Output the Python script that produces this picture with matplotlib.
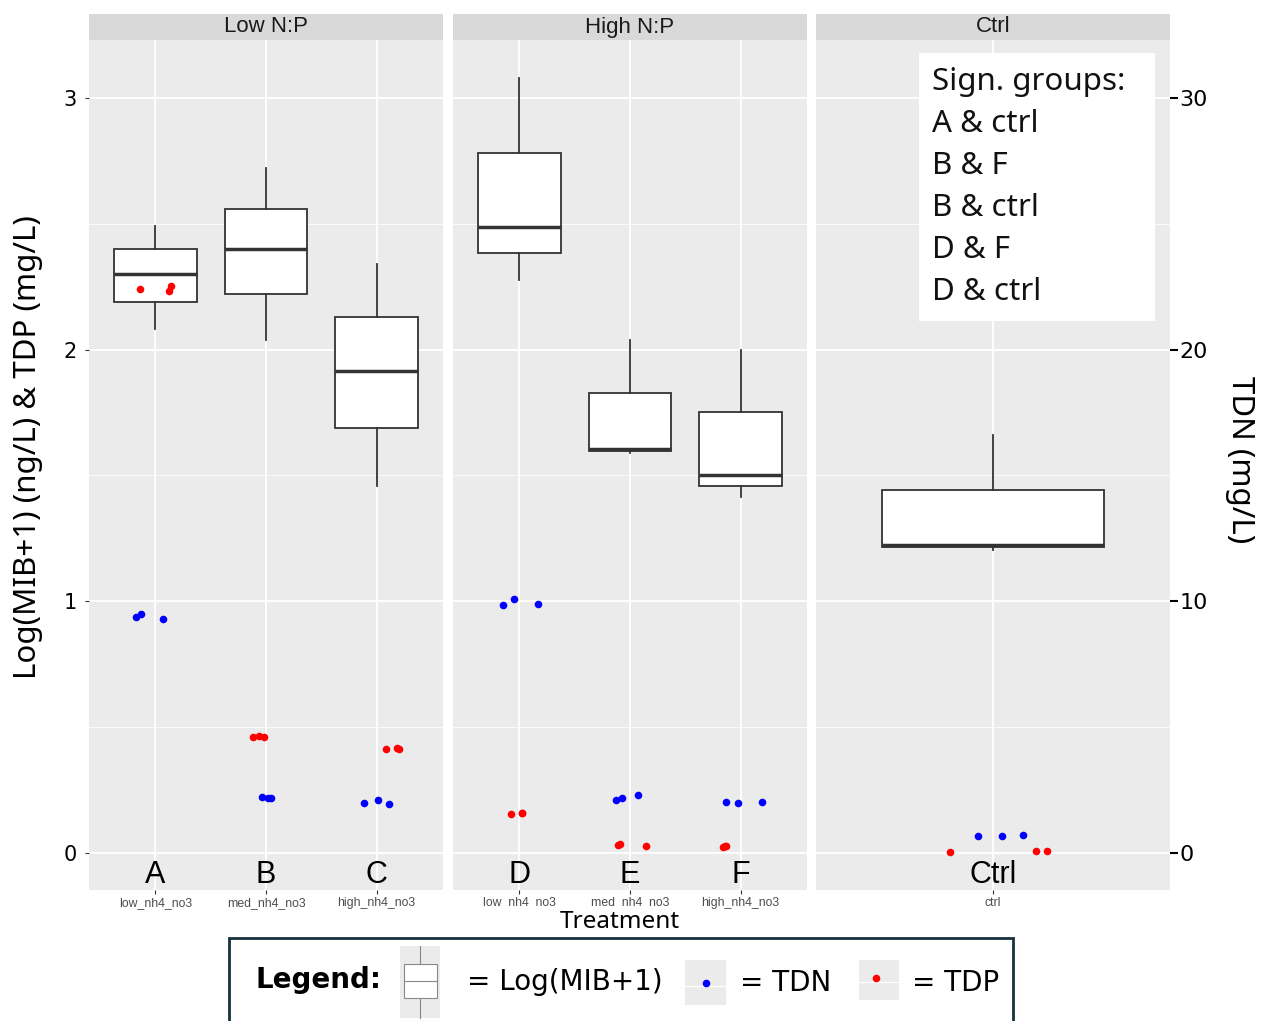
import matplotlib.pyplot as plt
from matplotlib.patches import Rectangle

W, H = 1268, 1021

# facets and categories
panels = ["Low N:P", "High N:P", "Ctrl"]
letters = ["A", "B", "C", "D", "E", "F", "Ctrl"]
treatments = ["low_nh4_no3", "med_nh4_no3", "high_nh4_no3",
              "low  nh4  no3", "med  nh4  no3", "high_nh4_no3", "ctrl"]
panel_of = [0, 0, 0, 1, 1, 1, 2]
pos_in_panel = [1, 2, 3, 1, 2, 3, 1]

# Log(MIB+1) (ng/L) box stats, order A..F, Ctrl
mib_whishi = [2.49, 2.72, 2.34, 3.08, 2.04, 2.00, 1.66]
mib_q3 = [2.40, 2.56, 2.13, 2.78, 1.826, 1.752, 1.441]
mib_med = [2.30, 2.40, 1.915, 2.487, 1.605, 1.502, 1.224]
mib_q1 = [2.19, 2.22, 1.69, 2.384, 1.598, 1.457, 1.215]
mib_whislo = [2.08, 2.04, 1.458, 2.277, 1.588, 1.413, 1.204]

# TDN (mg/L), three replicates per treatment
tdn = [[9.39, 9.49, 9.30], [2.21, 2.19, 2.20], [1.99, 2.09, 1.96],
       [9.84, 10.10, 9.90], [2.12, 2.17, 2.29], [2.01, 1.97, 2.01],
       [0.66, 0.66, 0.71]]
# TDP (mg/L)
tdp = [[2.240, 2.234, 2.253], [0.461, 0.463, 0.461], [0.413, 0.418, 0.413],
       [0.156, 0.158, 0.157], [0.031, 0.036, 0.029], [0.025, 0.029, 0.027],
       [0.005, 0.007, 0.009]]
# horizontal jitter
tdn_jit = [[-0.172, -0.127, 0.071], [-0.033, 0.045, 0.02], [-0.117, 0.01, 0.109],
           [-0.146, -0.052, 0.171], [-0.125, -0.07, 0.071], [-0.128, -0.026, 0.195],
           [-0.052, 0.032, 0.102]]
tdp_jit = [[-0.139, 0.126, 0.141], [-0.115, -0.066, -0.018], [0.088, 0.182, 0.203],
           [-0.076, 0.021, 0.021], [-0.104, -0.089, 0.144], [-0.158, -0.135, -0.14],
           [-0.146, 0.146, 0.182]]

sign_groups = ["Sign. groups:", "A & ctrl", "B & F", "B & ctrl", "D & F", "D & ctrl"]

fig = plt.figure(figsize=(W / 100, H / 100), dpi=100)

lefts = [89, 453, 816]
axes = []
for p in range(3):
    ax = fig.add_axes([lefts[p] / W, 1 - 890 / H, 354 / W, 850 / H])
    ax.set_facecolor("#EBEBEB")
    for s in ax.spines.values():
        s.set_visible(False)
    ax.set_axisbelow(True)
    ax.add_patch(Rectangle((0, 1), 1, 26 / 850, transform=ax.transAxes,
                           clip_on=False, facecolor="#D9D9D9", edgecolor="none"))
    ax.text(0.5, 1 + 13 / 850, panels[p], transform=ax.transAxes, ha="center",
            va="center", fontsize=16, color="#1A1A1A", family="Liberation Sans")
    axes.append(ax)

for p, ax in enumerate(axes):
    idx = [i for i in range(7) if panel_of[i] == p]
    xs = [pos_in_panel[i] for i in idx]
    stats = [dict(med=mib_med[i], q1=mib_q1[i], q3=mib_q3[i], whislo=mib_whislo[i],
                  whishi=mib_whishi[i], fliers=[]) for i in idx]
    ax.bxp(stats, positions=xs, widths=0.75, patch_artist=True, showcaps=False,
           showfliers=False, manage_ticks=False,
           boxprops=dict(facecolor="white", edgecolor="#333333", lw=1.3),
           medianprops=dict(color="#333333", lw=2.5),
           whiskerprops=dict(color="#333333", lw=1.3), zorder=2)
    for i in idx:
        x0 = pos_in_panel[i]
        ax.scatter([x0 + j for j in tdn_jit[i]], [v / 10 for v in tdn[i]],
                   s=30, color="blue", zorder=3, linewidths=0)
        ax.scatter([x0 + j for j in tdp_jit[i]], tdp[i], s=30, color="red",
                   zorder=3, linewidths=0)
        ax.text(x0, -0.087, letters[i], ha="center", va="center", fontsize=22,
                family="Liberation Sans")
    ax.set_ylim(-0.147, 3.23)
    ax.set_xlim(0.4, len(xs) + 0.6)
    ax.set_yticks([0, 1, 2, 3])
    ax.set_yticks([0.5, 1.5, 2.5], minor=True)
    ax.grid(True, which="major", color="white", lw=1.3)
    ax.grid(True, which="minor", axis="y", color="white", lw=0.6)
    ax.tick_params(which="minor", length=0)
    ax.set_xticks(xs)
    ax.set_xticklabels([treatments[i] for i in idx], fontsize=8.8, color="#4D4D4D",
                       family="Liberation Sans")
    ax.tick_params(axis="x", length=3, color="#333333", pad=2)
    if p == 0:
        ax.tick_params(axis="y", length=3, color="#333333", labelsize=15, pad=6)
    else:
        ax.tick_params(axis="y", length=0, labelleft=False)

# secondary axis for TDN
axr = axes[2].twinx()
lo, hi = axes[2].get_ylim()
axr.set_ylim(lo * 10, hi * 10)
axr.set_yticks([0, 10, 20, 30])
axr.tick_params(axis="y", length=6, width=1.5, color="black", labelsize=16, pad=1)
for s in axr.spines.values():
    s.set_visible(False)

fig.text(28 / W, 1 - 447 / H, "Log(MIB+1) (ng/L) & TDP (mg/L)", rotation=90,
         ha="center", va="center", fontsize=22.5, family="Noto Sans")
fig.text(1240 / W, 1 - 460 / H, "TDN (mg/L)", rotation=270, ha="center",
         va="center", fontsize=22.5, family="Noto Sans")
fig.text(620 / W, 1 - 922 / H, "Treatment", ha="center", va="center",
         fontsize=17.5, family="Noto Sans")

# overlay in pixel coordinates for the annotation boxes
ov = fig.add_axes([0, 0, 1, 1])
ov.set_xlim(0, W)
ov.set_ylim(H, 0)
ov.axis("off")
ov.set_zorder(10)

ov.add_patch(Rectangle((919, 53), 236, 268, facecolor="white", edgecolor="none"))
for k, line in enumerate(sign_groups):
    ov.text(932, 82 + 42 * k, line, ha="left", va="center", fontsize=22.5,
            family="Noto Sans", color="#111111")

ov.add_patch(Rectangle((229, 938), 784, 95, facecolor="white",
                       edgecolor="#17303D", lw=2))
lfont = ["DejaVu Sans"]
ov.text(256, 980, "Legend:", ha="left", va="center", fontsize=20,
        fontweight="bold", family=lfont)
# box icon
ov.add_patch(Rectangle((400, 946), 40, 72, facecolor="#EBEBEB", edgecolor="none"))
ov.plot([420, 420], [946, 1018], color="#888888", lw=0.8, zorder=1)
ov.add_patch(Rectangle((404, 964), 33, 34, facecolor="white", edgecolor="#888888",
                       lw=0.8, zorder=2))
ov.plot([404, 437], [981, 981], color="#888888", lw=0.8, zorder=3)
ov.text(467, 982, "= Log(MIB+1)", ha="left", va="center", fontsize=20, family=lfont)
# TDN icon
ov.add_patch(Rectangle((685, 960), 41, 45, facecolor="#EBEBEB", edgecolor="none"))
ov.plot([685, 726], [986, 986], color="white", lw=1)
ov.scatter([706], [983], s=30, color="blue", linewidths=0, zorder=3)
ov.text(740, 983, "= TDN", ha="left", va="center", fontsize=20, family=lfont)
# TDP icon
ov.add_patch(Rectangle((859, 960), 40, 40, facecolor="#EBEBEB", edgecolor="none"))
ov.plot([859, 899], [982, 982], color="white", lw=1)
ov.scatter([876], [978], s=30, color="red", linewidths=0, zorder=3)
ov.text(912, 983, "= TDP", ha="left", va="center", fontsize=20, family=lfont)

fig.savefig("out.png", dpi=100)
